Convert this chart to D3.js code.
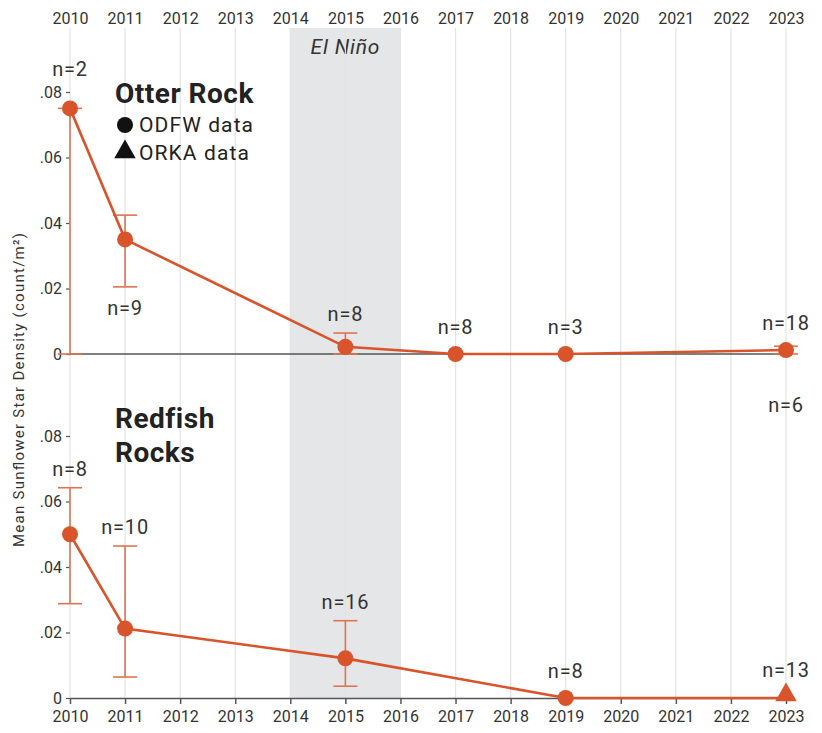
<!DOCTYPE html>
<html>
<head>
<meta charset="utf-8">
<script src="https://cdn.jsdelivr.net/npm/d3@7"></script>
<style>
  body { margin: 0; background: #fff; }
  svg { font-family: Roboto, "Liberation Sans", sans-serif; }
</style>
</head>
<body>
<svg id="chart" width="822" height="733"></svg>
<script>
// tick labels
var years = d3.range(2010, 2024);
var yTicks = [0, 0.02, 0.04, 0.06, 0.08];
var yTickLabels = ["0", ".02", ".04", ".06", ".08"];

// Otter Rock, ODFW
var otterYears = [2010, 2011, 2015, 2017, 2019, 2023];
var otterMean  = [0.075, 0.035, 0.0022, 0, 0, 0.0012];
var otterLow   = [0, 0.0205, 0, null, null, 0];
var otterHigh  = [0.075, 0.0424, 0.0064, null, null, 0.0024];
var otterN     = [2, 9, 8, 8, 3, 18];
var otterSide  = ["top", "below", "above", "above", "above", "above"];
// Otter Rock, ORKA
var otterOrkaYears = [2023];
var otterOrkaMean  = [0];
var otterOrkaN     = [6];

// Redfish Rocks, ODFW
var redYears = [2010, 2011, 2015, 2019];
var redMean  = [0.050, 0.0212, 0.0121, 0];
var redLow   = [0.0288, 0.0064, 0.0036, null];
var redHigh  = [0.0642, 0.0464, 0.0236, null];
var redN     = [8, 10, 16, 8];
// Redfish Rocks, ORKA
var redOrkaYears = [2023];
var redOrkaMean  = [0];
var redOrkaN     = [13];

var orange = "#d9532b";
var barColor = "#e07352";

var svg = d3.select("#chart");

var x = d3.scaleLinear().domain([2010, 2023]).range([70, 786]);
var yTop = d3.scaleLinear().domain([0, 0.08]).range([354, 92]);
var yBot = d3.scaleLinear().domain([0, 0.08]).range([698, 436]);

// El Nino shading
svg.append("rect")
  .attr("x", x(2014)).attr("y", 28)
  .attr("width", x(2016) - x(2014)).attr("height", 698 - 28)
  .attr("fill", "#e5e6e8");

svg.append("text")
  .attr("x", x(2015)).attr("y", 54)
  .attr("text-anchor", "middle")
  .attr("font-size", 21).attr("font-style", "italic").attr("letter-spacing", 0.8)
  .attr("fill", "#333")
  .text("El Niño");

// vertical grid
svg.append("g")
  .selectAll("line")
  .data(years)
  .enter()
  .append("line")
  .attr("x1", d => x(d)).attr("x2", d => x(d))
  .attr("y1", 28).attr("y2", 698)
  .attr("stroke", "#e3e3e3").attr("stroke-width", 1.2);

// top axis (labels only)
var topAxis = svg.append("g")
  .attr("transform", "translate(0,24)")
  .call(d3.axisTop(x).tickValues(years).tickFormat(d3.format("d")).tickSize(0).tickPadding(0));
topAxis.select(".domain").remove();
topAxis.selectAll("text").attr("font-size", 16).attr("fill", "#333")
  .attr("font-family", "Roboto, sans-serif");

// bottom axis
var botAxis = svg.append("g")
  .attr("transform", "translate(0,698)")
  .call(d3.axisBottom(x).tickValues(years).tickFormat(d3.format("d")).tickSize(6).tickSizeOuter(0).tickPadding(7));
botAxis.select(".domain").attr("stroke", "#555").attr("stroke-width", 1.5);
botAxis.selectAll(".tick line").attr("stroke", "#555").attr("stroke-width", 1.5);
botAxis.selectAll("text").attr("font-size", 16).attr("fill", "#333")
  .attr("font-family", "Roboto, sans-serif");

// left axes
function leftAxis(scale) {
  var g = svg.append("g")
    .attr("transform", "translate(70,0)")
    .call(d3.axisLeft(scale).tickValues(yTicks)
      .tickFormat((d, i) => yTickLabels[i]).tickSize(4).tickPadding(4).tickSizeOuter(0));
  g.select(".domain").remove();
  g.selectAll(".tick line").attr("stroke", "#555").attr("stroke-width", 1.2);
  g.selectAll("text").attr("font-size", 16).attr("fill", "#333")
    .attr("font-family", "Roboto, sans-serif");
  return g;
}
leftAxis(yTop);
leftAxis(yBot);

// zero line in the top panel
svg.append("line")
  .attr("x1", x(2010)).attr("x2", x(2023))
  .attr("y1", yTop(0)).attr("y2", yTop(0))
  .attr("stroke", "#555").attr("stroke-width", 1.5);

// y axis title
svg.append("text")
  .attr("transform", "translate(24,390) rotate(-90)")
  .attr("text-anchor", "middle")
  .attr("font-size", 15).attr("fill", "#333")
  .attr("textLength", 314).attr("lengthAdjust", "spacing")
  .text("Mean Sunflower Star Density (count/m²)");

var triangle = d3.symbol().type(d3.symbolTriangle).size(200);

function drawPanel(y, yrs, mean, low, high, n, side, orkaYrs, orkaMean, orkaN, lineToOrka, orkaBehind) {
  var pts = yrs.map((d, i) => ({ year: d, mean: mean[i], low: low[i], high: high[i], n: n[i], side: side ? side[i] : "above" }));
  var orka = orkaYrs.map((d, i) => ({ year: d, mean: orkaMean[i], n: orkaN[i] }));

  // error bars
  var bars = pts.filter(d => d.low !== null);
  var g = svg.append("g").attr("stroke", barColor).attr("stroke-width", 1.6).attr("fill", "none");
  g.selectAll(".v").data(bars).enter().append("line")
    .attr("x1", d => x(d.year)).attr("x2", d => x(d.year))
    .attr("y1", d => y(d.low)).attr("y2", d => y(d.high));
  g.selectAll(".lo").data(bars).enter().append("line")
    .attr("x1", d => x(d.year) - 12).attr("x2", d => x(d.year) + 12)
    .attr("y1", d => y(d.low)).attr("y2", d => y(d.low));
  g.selectAll(".hi").data(bars).enter().append("line")
    .attr("x1", d => x(d.year) - 12).attr("x2", d => x(d.year) + 12)
    .attr("y1", d => y(d.high)).attr("y2", d => y(d.high));

  // line
  var linePts = pts.map(d => [x(d.year), y(d.mean)]);
  if (lineToOrka) orka.forEach(d => linePts.push([x(d.year), y(d.mean)]));
  svg.append("path")
    .attr("d", d3.line()(linePts))
    .attr("fill", "none").attr("stroke", orange).attr("stroke-width", 2.6);

  // ORKA triangles (in the top panel it sits hidden under the ODFW circle)
  svg.selectAll(null).data(orka).enter().append("path")
    .attr("d", orkaBehind ? d3.symbol().type(d3.symbolTriangle).size(60) : triangle)
    .attr("transform", d => "translate(" + x(d.year) + "," + (y(d.mean) - (orkaBehind ? 2 : 3)) + ")")
    .attr("fill", orange);

  // ODFW circles
  svg.selectAll(null).data(pts).enter().append("circle")
    .attr("cx", d => x(d.year)).attr("cy", d => y(d.mean))
    .attr("r", 8).attr("fill", orange);

  // n labels
  svg.selectAll(null).data(pts).enter().append("text")
    .attr("x", d => x(d.year))
    .attr("y", d => {
      if (d.side === "top") return y(0.08) - 16;
      if (d.side === "below") return y(d.low !== null ? d.low : d.mean) + 28;
      var top = d.high !== null ? Math.min(y(d.high), y(d.mean) - 8) : y(d.mean) - 8;
      return top - 12;
    })
    .attr("text-anchor", "middle").attr("font-size", 20).attr("letter-spacing", 0.8).attr("fill", "#333")
    .text(d => "n=" + d.n);

  svg.selectAll(null).data(orka).enter().append("text")
    .attr("x", d => x(d.year))
    .attr("y", d => orkaBehind ? y(d.mean) + 58 : y(d.mean) - 21)
    .attr("text-anchor", "middle").attr("font-size", 20).attr("letter-spacing", 0.8).attr("fill", "#333")
    .text(d => "n=" + d.n);
}

drawPanel(yTop, otterYears, otterMean, otterLow, otterHigh, otterN, otterSide,
  otterOrkaYears, otterOrkaMean, otterOrkaN, false, true);
drawPanel(yBot, redYears, redMean, redLow, redHigh, redN, null,
  redOrkaYears, redOrkaMean, redOrkaN, true, false);

// site titles and legend
svg.append("text").attr("x", 115).attr("y", 103)
  .attr("font-size", 28).attr("font-weight", "bold").attr("letter-spacing", 0.5).attr("fill", "#222")
  .text("Otter Rock");

svg.append("circle").attr("cx", 125).attr("cy", 125).attr("r", 8).attr("fill", "#111");
svg.append("text").attr("x", 139).attr("y", 132)
  .attr("font-size", 21).attr("letter-spacing", 1.1).attr("fill", "#222").text("ODFW data");
svg.append("path").attr("d", triangle)
  .attr("transform", "translate(125,152)").attr("fill", "#111");
svg.append("text").attr("x", 139).attr("y", 160)
  .attr("font-size", 21).attr("letter-spacing", 1.1).attr("fill", "#222").text("ORKA data");

var red = svg.append("text").attr("x", 115).attr("y", 428)
  .attr("font-size", 28).attr("font-weight", "bold").attr("letter-spacing", 0.5).attr("fill", "#222");
red.append("tspan").attr("x", 115).text("Redfish");
red.append("tspan").attr("x", 115).attr("dy", 34).text("Rocks");
</script>
</body>
</html>
